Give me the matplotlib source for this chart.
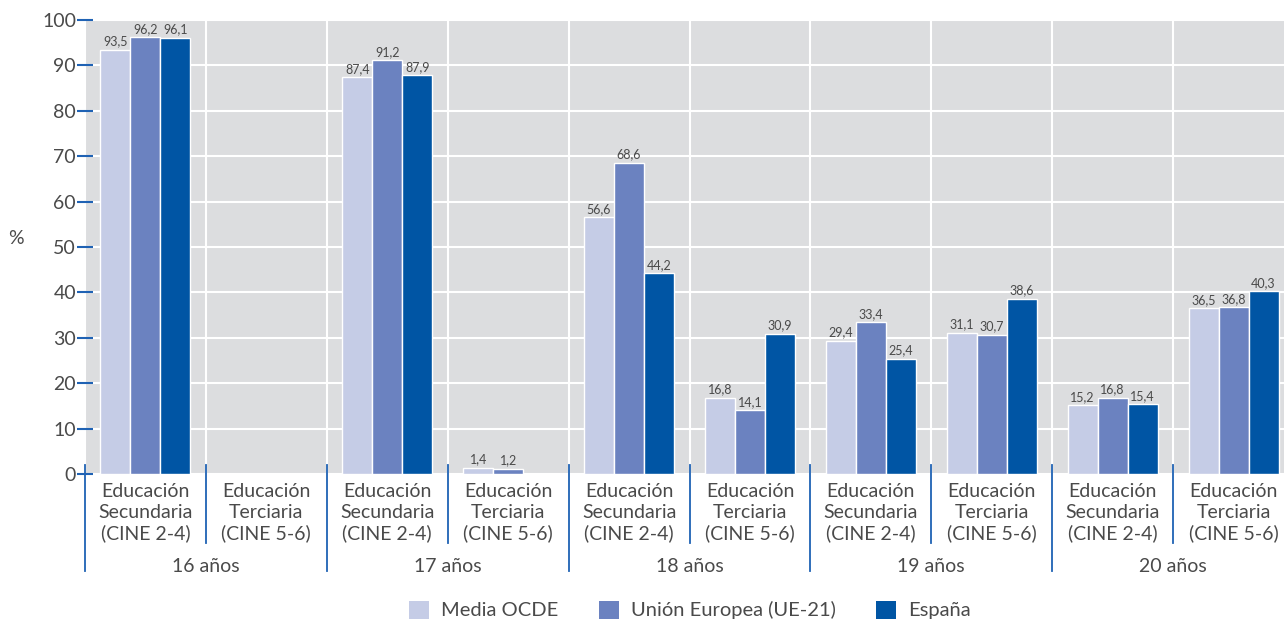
import numpy as np
import matplotlib
matplotlib.use("Agg")
import matplotlib.pyplot as plt
from matplotlib.patches import Patch

plt.rcParams['font.family'] = ['Lato', 'DejaVu Sans']

# Data
ages = ['16 años', '17 años', '18 años', '19 años', '20 años']
levels = ['Educación\nSecundaria\n(CINE 2-4)', 'Educación\nTerciaria\n(CINE 5-6)']
series = ['Media OCDE', 'Unión Europea (UE-21)', 'España']
ocde = [93.5, np.nan, 87.4, 1.4, 56.6, 16.8, 29.4, 31.1, 15.2, 36.5]
ue21 = [96.2, np.nan, 91.2, 1.2, 68.6, 14.1, 33.4, 30.7, 16.8, 36.8]
espana = [96.1, np.nan, 87.9, np.nan, 44.2, 30.9, 25.4, 38.6, 15.4, 40.3]

colors = ['#C5CCE6', '#6B82C0', '#0055A4']
text_col = '#4a4a4a'
blue_line = '#1F62B4'

fig = plt.figure(figsize=(12.84, 6.21), dpi=100)
ax = fig.add_axes([85/1284, 147/621, 1209/1284, 454/621])
ax.set_facecolor('#DCDDDF')

n = len(ocde)
x = np.arange(n) + 0.5
w = 0.248
for i, (vals, c) in enumerate(zip([ocde, ue21, espana], colors)):
    xs = x + (i - 1) * w
    ax.bar(xs, vals, width=w, color=c, edgecolor='white', linewidth=1, zorder=3)
    for xi, v in zip(xs, vals):
        if not np.isnan(v):
            ax.text(xi, v + 0.5, f'{v:.1f}'.replace('.', ','), ha='center', va='bottom',
                    fontsize=9, color=text_col, zorder=4)

ax.set_xlim(0, n)
ax.set_ylim(0, 100)
ax.set_yticks(range(0, 101, 10))
ax.set_xticks(range(0, n + 1))
ax.set_xticklabels([])
ax.tick_params(axis='x', length=0)
ax.grid(True, color='white', linewidth=1.5, zorder=1)
ax.set_axisbelow(True)
for s in ax.spines.values():
    s.set_visible(False)
ax.tick_params(axis='y', direction='inout', length=11, width=1.5, color=blue_line,
               labelsize=14, labelcolor=text_col, pad=1)
ax.set_ylabel('%', rotation=0, fontsize=14, color=text_col)
ax.yaxis.set_label_coords(-0.057, 0.5)

trans = ax.get_xaxis_transform()
# category labels
for k in range(n):
    ax.text(k + 0.5, -0.019, levels[k % 2], transform=trans, ha='center', va='top',
            fontsize=14, color=text_col, linespacing=1.28)
for j, a in enumerate(ages):
    ax.text(2 * j + 1, -0.203, a, transform=trans, ha='center', va='center',
            fontsize=14, color=text_col)
# separator lines below axis
for k in range(n + 1):
    bottom = -0.213 if k % 2 == 0 else -0.152
    ax.plot([k, k], [0.02, bottom], transform=trans, color=blue_line, linewidth=1.3,
            clip_on=False, zorder=5)

handles = [Patch(facecolor=c, edgecolor='none') for c in colors]
fig.legend(handles, series, loc='center', bbox_to_anchor=(690/1284, 1 - 610/621), ncol=3,
           frameon=False, fontsize=14.5, handlelength=1.0, handleheight=1.0,
           columnspacing=2.0, handletextpad=0.6, labelcolor=text_col)

fig.savefig('out.png', dpi=100)
